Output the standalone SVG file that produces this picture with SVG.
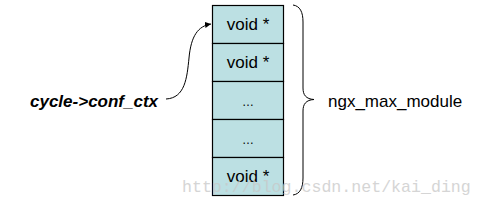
<svg xmlns="http://www.w3.org/2000/svg" width="483" height="206" viewBox="0 0 483 206">
<style>
.cell{fill:#BCE0E3;stroke:#000;stroke-width:1.2}
.t{font-family:"Liberation Sans",Arial,sans-serif;font-size:17px;fill:#000;text-anchor:middle}
.d{font-family:"Liberation Sans",Arial,sans-serif;font-size:12px;fill:#000;text-anchor:middle}
.line{fill:none;stroke:#000;stroke-width:1}
.wm{font-family:"Liberation Mono","DejaVu Sans Mono",monospace;font-size:16.6px;fill:#c8c8c8;opacity:0.75}
</style>
<defs>
<marker id="ah" viewBox="0 0 10 10" refX="10" refY="5" markerWidth="6" markerHeight="6" orient="auto" markerUnits="userSpaceOnUse">
<path d="M0,0 L10,5 L0,10 z" fill="#000"/>
</marker>
</defs>
<rect width="483" height="206" fill="#fff"/>
<g id="array">
<g id="cell1"><rect class="cell" x="212.5" y="5.5" width="71" height="38"/><text class="t" x="248" y="30">void *</text></g>
<g id="cell2"><rect class="cell" x="212.5" y="43.5" width="71" height="38"/><text class="t" x="248" y="68">void *</text></g>
<g id="cell3"><rect class="cell" x="212.5" y="81.5" width="71" height="38"/><text class="d" x="248" y="106">…</text></g>
<g id="cell4"><rect class="cell" x="212.5" y="119.5" width="71" height="38"/><text class="d" x="248" y="144">…</text></g>
<g id="cell5"><rect class="cell" x="212.5" y="157.5" width="71" height="38"/><text class="t" x="248" y="182">void *</text></g>
</g>
<g id="label-ctx"><text x="30" y="107" font-family="'Liberation Sans',Arial,sans-serif" font-size="17" font-weight="bold" font-style="italic" fill="#000">cycle-&gt;conf_ctx</text></g>
<g id="label-max"><text x="328" y="107" font-family="'Liberation Sans',Arial,sans-serif" font-size="17" fill="#000">ngx_max_module</text></g>
<g id="brace"><path class="line" d="M293,5 C300,6 303,12 303,22 L303,88 C303,95 306,99 314,99.5 C306,100 303,104 303,111 L303,178 C303,188 300,194 293,195"/></g>
<g id="connectors">
<path class="line" d="M166,99 C185,98 187,78 189,58 C191,36 198,26 211,24" marker-end="url(#ah)"/>
</g>
<text class="wm" x="182" y="192">http://blog.csdn.net/kai_ding</text>
</svg>
